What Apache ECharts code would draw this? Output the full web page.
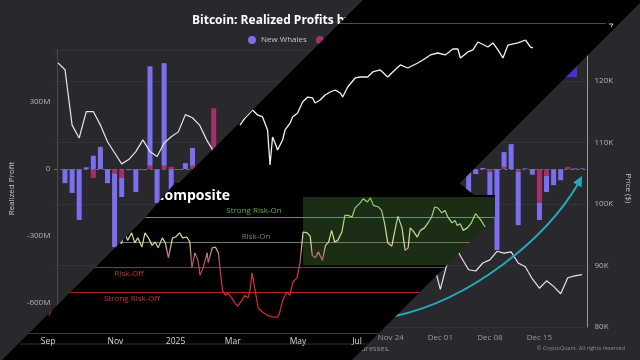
<!DOCTYPE html>
<html><head><meta charset="utf-8">
<script src="https://cdn.jsdelivr.net/npm/echarts@6/dist/echarts.min.js"></script>
<style>
html,body{margin:0;padding:0;background:#000;width:640px;height:360px;overflow:hidden;}
.layer{position:absolute;left:0;top:0;width:640px;height:360px;}
#bg{background:#29282d;}
#top{background:#000;clip-path:polygon(363px 0,643px 0,459px 184px,178px 184px);}
#comp{background:#000;clip-path:polygon(175px 183px,459px 183px,474px 195px,495px 195px,495px 217px,352px 360px,2px 360px,143px 220px);}
</style></head><body>
<div id="bg" class="layer"></div><div id="top" class="layer"></div><div id="comp" class="layer"></div>
<script>
// ===== Background chart: Realized profits by whale cohort (daily, Oct 8 - Dec 21) =====
const MONTHS = ['Jan','Feb','Mar','Apr','May','Jun','Jul','Aug','Sep','Oct','Nov','Dec'];
const bgStartUTC = Date.UTC(2025, 9, 8);
const bgDayCount = 75;
const bgDates = [];
for (let i = 0; i < bgDayCount; i++) {
  const d = new Date(bgStartUTC + i * 86400000);
  bgDates.push(MONTHS[d.getUTCMonth()] + ' ' + String(d.getUTCDate()).padStart(2, '0'));
}
const priceK = [122.9,121.8,112.8,110.7,115.0,115.0,112.8,110.1,108.3,106.5,107.2,108.5,110.4,108.5,107.7,109.9,110.9,111.7,114.5,114.0,112.8,110.4,108.5,
  109.5,110.0,110.5,106.5,101.5,103.8,101.3,103.3,102.3,104.7,106.0,103.0,101.6,99.7,94.5,95.5,94.2,92.2,92.9,91.5,86.6,85.1,84.7,86.8,88.3,87.3,90.5,91.3,90.9,90.8,90.6,
  86.1,90.5,93.3,91.2,89.3,89.1,90.4,90.9,92.3,92.0,92.2,90.4,89.8,87.8,86.3,87.5,86.6,85.4,88.0,88.3,88.5];
const newWhalesM = [null,-63,-107,-228,8,60,100,-63,-330,-85,-5,-103,0,446,-152,460,-103,-3,27,80,5,-20,0,
  -40,35,-90,120,-60,45,-150,80,-120,60,-200,150,-80,40,-250,90,-180,30,-220,70,-300,50,-260,110,-140,60,-90,40,-120,30,-60,-200,90,-50,
  -40,-110,-22,5,-163,-363,66,112,-240,3,-25,-76,-73,-72,-50,0,3,2];
const oldWhalesM = [null,0,0,0,0,-40,0,0,-20,-40,0,0,-5,15,0,15,10,0,0,15,-8,0,273,
  10,-12,0,20,-15,0,-30,10,0,25,-20,0,-10,5,-40,0,0,10,-30,0,-25,0,-50,15,0,20,-10,0,0,5,-10,0,10,0,
  0,0,0,0,-12,0,10,0,-11,0,0,-152,-30,0,0,10,-2,2];
const profitTicks = [-600, -300, 0, 300];
const profitRange = [-708, 534];
const priceRange = [80, 125];

// ===== Top inset: rising price line =====
const topDays = [0,2,5,7,9,11,12,13,14,15,17,18,20,21,23,25,27,29,30,32,34,36,38,40,41,43,46,48,51,53,56,59,61,64,67,71,73,76,79,82,85,87,88,91,93,95,99,101,103,105,107,111,114,116,117];
const topVals = [5419,5500,5592,5535,5512,5362,4958,5281,5212,5131,5246,5362,5442,5512,5558,5685,5742,5731,5673,5708,5766,5800,5823,5789,5742,5858,5962,5973,5973,6031,6054,5973,6031,6112,6077,6135,6169,6227,6250,6227,6296,6296,6192,6262,6285,6377,6319,6366,6285,6192,6342,6366,6400,6319,6308];

// ===== Composite chart (days since 2024-09-01) =====
const compDays = [1,7,14,22,31,41,51,61,69,72,75,78,82,85,88,92,95,98,102,105,108,112,115,118,122,125,129,132,136,139,141,144,147,149,152,156,157,161,164,167,169,171,174,176,180,183,186,190,193,196,198,200,203,206,210,215,220,225,227,230,234,237,240,244,247,250,254,257,259,262,265,269,272,275,278,281,284,288,291,294,298,301,306,309,313,316,319,324,327,330,333,337,340,343,347,350,353,355,358,362,365,369,373,376,379,382,386,389,392,396,399,401,404,407,411,415,419,422,425,428,430];
const compVals = [16,25,37,46,55,61,62.5,66,62.5,59,66,61,65.5,59.5,62.5,57,65.5,63,58,60,56.5,62.5,59.5,50.5,62.5,63,65.5,62.5,63,60,44.5,53.5,49,40,44.5,53.5,47.5,56.5,57,53.5,41.5,31,28,29.5,26.5,23.5,21.5,25,28,26.5,31,41.5,31,20.5,18,16,15,15,17.5,25,30,28,36,38.5,47.5,66,65.5,63.5,52,50.5,54,49,58,60,67,60,61,66,76,76,75,80.5,83.5,86,84,86.5,82,81,79,71,59.5,57.5,67,75.5,68.5,55,56.5,68.5,66.5,63,67,68.5,72,75,81,80.5,77.5,79,75,71.5,73,70,71,67,68.5,71.5,77,75,72.5,69.5,69];
const compTickDays = [0, 66, 125, 181, 245, 303];
const compTickNames = ['Sep', 'Nov', '2025', 'Mar', 'May', 'Jul'];
const regimeLevels = [75, 60, 45, 30];
const regimeNames = ['Strong Risk-On', 'Risk-On', 'Risk-Off', 'Strong Risk-Off'];
const regimeColors = ['#5a9e46', '#727a62', '#b8202e', '#b8202e'];
const riskOnZone = [250, 470, 46, 87];

const FONT = 'Open Sans';

// ---------- background ----------
const bg = echarts.init(document.getElementById('bg'));
bg.setOption({
  backgroundColor: '#29282d',
  animation: false,
  textStyle: { fontFamily: FONT },
  title: { text: 'Bitcoin: Realized Profits by New vs Old Whales', left: 187, top: 10,
    textStyle: { color: '#ffffff', fontSize: 12, fontWeight: 'bold', fontFamily: FONT } },
  legend: { data: ['New Whales', 'Old Whales'], left: 243, top: 31, icon: 'circle', itemWidth: 8, itemHeight: 8, itemGap: 9,
    textStyle: { color: '#c8c8c8', fontSize: 8, fontFamily: FONT } },
  grid: { left: 54, right: 52, top: 50, bottom: 33 },
  xAxis: { type: 'category', data: bgDates, boundaryGap: true,
    axisLine: { show: false }, axisTick: { show: false },
    axisLabel: { color: '#9a9a9a', fontSize: 8, margin: 7, interval: (i) => i >= 5 && (i - 5) % 7 === 0 } },
  yAxis: [
    { type: 'value', min: profitRange[0], max: profitRange[1], position: 'left', offset: -3,
      axisLine: { show: true, lineStyle: { color: '#4a494e' } }, axisTick: { show: false }, splitLine: { show: false },
      axisLabel: { customValues: profitTicks, color: '#b4b4b4', fontSize: 8, margin: 7, formatter: v => v === 0 ? '0' : v + 'M' },
      name: 'Realized Profit', nameLocation: 'middle', nameGap: 26, nameTextStyle: { color: '#c4c4c4', fontSize: 8 } },
    { type: 'value', min: priceRange[0], max: priceRange[1], interval: 10, position: 'right', offset: 2,
      axisLine: { show: true, lineStyle: { color: '#9a9a9a' } }, axisTick: { show: false },
      splitLine: { show: true, lineStyle: { color: '#333237' } },
      axisLabel: { color: '#b4b4b4', fontSize: 8, margin: 7, showMaxLabel: false, formatter: v => v + 'K' },
      name: 'Price ($)', nameLocation: 'middle', nameRotate: -90, nameGap: 24, nameTextStyle: { color: '#c4c4c4', fontSize: 8 } }
  ],
  series: [
    { name: 'Old Whales', type: 'bar', stack: 'p', data: oldWhalesM, barWidth: 5, itemStyle: { color: '#a3306c' } },
    { name: 'New Whales', type: 'bar', stack: 'p', data: newWhalesM, barWidth: 5, itemStyle: { color: '#7b6ff0' },
      markLine: { silent: true, symbol: 'none', label: { show: false },
        lineStyle: { color: '#707070', type: [3, 3], width: 1 }, data: [{ yAxis: 0 }] } },
    { name: 'Price', type: 'line', yAxisIndex: 1, data: priceK, symbol: 'none', z: 5,
      lineStyle: { color: '#e6e6e6', width: 1.2 } }
  ],
  graphic: [
    { type: 'rect', shape: { x: 540, y: 45, width: 37, height: 32 }, style: { fill: '#4536c8' }, z: 1 },
    { type: 'bezierCurve', shape: { x1: 395, y1: 316, cpx1: 470, cpy1: 300, cpx2: 545, cpy2: 240, x2: 578, y2: 184 },
      style: { stroke: '#27a9bb', lineWidth: 2, fill: null }, z: 20 },
    { type: 'polygon', shape: { points: [[582, 176], [573.2, 182.6], [581.6, 187.4]] }, style: { fill: '#27a9bb' }, z: 20 },
    { type: 'text', x: 390, y: 349, style: { text: 'Note: New whales are whale wallets younger than 155 days; old whales are the remaining whale addresses.',
      fill: '#8c8c8c', fontSize: 7.5, align: 'right', verticalAlign: 'middle', fontFamily: FONT } },
    { type: 'text', x: 625, y: 348, style: { text: '© CryptoQuant. All rights reserved', fill: '#8c8c8c', fontSize: 5.5,
      align: 'right', verticalAlign: 'middle', fontFamily: FONT } }
  ]
});

// ---------- top inset ----------
const topC = echarts.init(document.getElementById('top'));
topC.setOption({
  backgroundColor: '#000',
  animation: false,
  grid: { left: 240, right: 107, top: 40, bottom: 190 },
  xAxis: { type: 'value', min: 0, max: 117, show: false },
  yAxis: { type: 'value', min: 4900, max: 6400, show: false },
  series: [{ type: 'line', data: topDays.map((d, i) => [d, topVals[i]]), symbol: 'none',
    lineStyle: { color: '#f2f2f2', width: 1.3 } }],
  graphic: [
    { type: 'line', shape: { x1: 300, y1: 23.5, x2: 606, y2: 23.5 }, style: { stroke: '#4a4a4a', lineWidth: 1 } },
    { type: 'polyline', shape: { points: [[609, 24], [613, 24], [611, 27]] }, style: { stroke: '#cfcfcf', lineWidth: 1, fill: null } }
  ]
});

// ---------- composite ----------
const comp = echarts.init(document.getElementById('comp'));
comp.setOption({
  backgroundColor: '#000',
  animation: false,
  textStyle: { fontFamily: FONT },
  grid: { left: 20.5, right: 112.5, top: 183.7, bottom: 26.3 },
  xAxis: { type: 'value', min: -27, max: 470,
    axisLine: { show: true, lineStyle: { color: '#3a3a3a' } }, axisTick: { show: false }, splitLine: { show: false },
    axisLabel: { customValues: compTickDays, color: '#dadada', fontSize: 8.5, margin: 3,
      formatter: v => { const k = compTickDays.indexOf(v); return k >= 0 ? compTickNames[k] : ''; } } },
  yAxis: { type: 'value', min: 5, max: 95, show: false },
  visualMap: { show: false, type: 'continuous', seriesIndex: 0, dimension: 1, min: 20, max: 80,
    inRange: { color: ['#d42a38', '#d42a38', '#d63444', '#b86070', '#e2e2a6', '#b4da8c', '#94cc6c'] } },
  series: [
    { type: 'line', data: compDays.map((d, i) => [d, compVals[i]]), symbol: 'none', z: 5, lineStyle: { width: 1.2 } },
    { type: 'line', data: [], z: 2,
      markArea: { silent: true, itemStyle: { color: 'rgba(84,140,64,0.32)' },
        data: [[{ xAxis: riskOnZone[0], yAxis: riskOnZone[2] }, { xAxis: riskOnZone[1], yAxis: riskOnZone[3] }]] },
      markLine: { silent: true, symbol: 'none', label: { show: false },
        data: regimeLevels.map((v, i) => ({ yAxis: v, lineStyle: { color: regimeColors[i], width: 1.2, type: 'solid' } })) } }
  ],
  graphic: [
    { type: 'text', x: 230, y: 196, style: { text: 'Risk Regime Composite', fill: '#ffffff', fontSize: 14, fontWeight: 'bold',
      align: 'right', verticalAlign: 'middle', fontFamily: FONT } },
    { type: 'text', x: 254, y: 210.5, style: { text: regimeNames[0], fill: '#5fb04a', fontSize: 8, align: 'center', verticalAlign: 'middle', fontFamily: FONT } },
    { type: 'text', x: 256, y: 236.5, style: { text: regimeNames[1], fill: '#7c8468', fontSize: 8, align: 'center', verticalAlign: 'middle', fontFamily: FONT } },
    { type: 'text', x: 129, y: 274, style: { text: regimeNames[2], fill: '#c8303c', fontSize: 8, align: 'center', verticalAlign: 'middle', fontFamily: FONT } },
    { type: 'text', x: 132, y: 298.5, style: { text: regimeNames[3], fill: '#c8303c', fontSize: 8, align: 'center', verticalAlign: 'middle', fontFamily: FONT } },
    { type: 'line', shape: { x1: 20, y1: 344, x2: 527, y2: 344 }, style: { stroke: '#333333', lineWidth: 1 } }
  ]
});
</script>
</body></html>
